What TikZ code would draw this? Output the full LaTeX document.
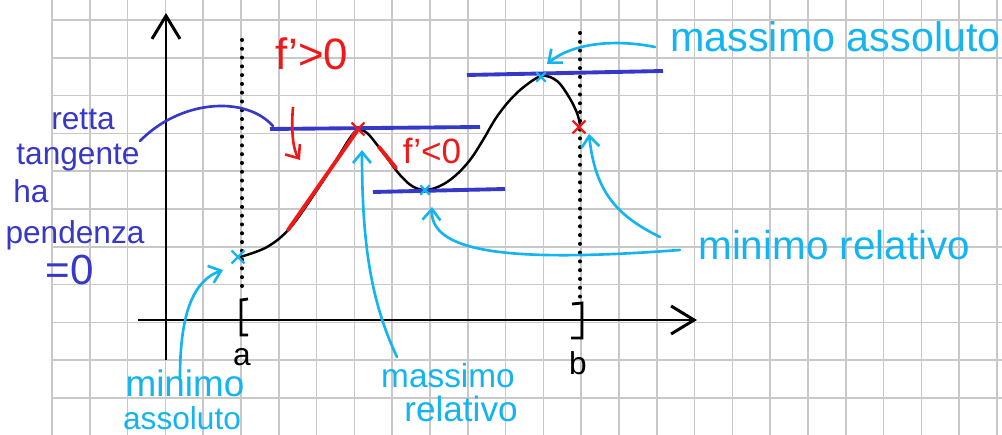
\documentclass[tikz,border=0pt]{standalone}
\usepackage{fontspec}
\setmainfont{Liberation Sans}
\usetikzlibrary{arrows.meta, shapes.misc}

\definecolor{penblue}{RGB}{55,55,200}
\definecolor{pencyan}{RGB}{20,180,240}
\definecolor{penred}{RGB}{240,25,25}
\definecolor{gridgray}{RGB}{200,200,200}

\begin{document}
\begin{tikzpicture}[
    x=0.02cm, y=-0.02cm,
    >={Straight Barb[length=2.2mm, width=3.6mm]},
    gridline/.style={draw=gridgray, line width=1pt},
    axis/.style={line width=1.7pt, -{Straight Barb[length=4.6mm, width=5.6mm]}},
    dots/.style={line width=2.3pt, line cap=round, dash pattern=on 0pt off 5pt},
    fcurve/.style={line width=1.4pt, line cap=round},
    redpen/.style={draw=penred, line width=2.2pt, line cap=round},
    tangent/.style={draw=penblue, line width=2.2pt},
    lead/.style={draw=pencyan, line width=1.5pt, line cap=round, ->},
    xmark/.style={cross out, draw, line width=1.3pt, minimum size=6pt, inner sep=0pt},
    cyantxt/.style={text=pencyan, inner sep=0pt},
    bluetxt/.style={text=penblue, inner sep=0pt, anchor=base,
                    font=\fontsize{18}{18}\selectfont},
    redtxt/.style={text=penred, inner sep=0pt, anchor=base}
  ]
  \useasboundingbox (0,0) rectangle (1002,435);
  \fill[white] (0,0) rectangle (1002,435);

  % squared paper
  \foreach \i in {0,...,25}
    \draw[gridline] ({52+37.8*\i},0) -- ({52+37.8*\i},435);
  \foreach \j in {0,...,10}
    \draw[gridline] (52,{20+37.8*\j}) -- (1002,{20+37.8*\j});

  % axes
  \coordinate (xstart) at (138,320);
  \coordinate (xend) at (697,320);
  \coordinate (ystart) at (166,360);
  \coordinate (yend) at (166,13);
  \draw[axis] (xstart) -- (xend);
  \draw[axis] (ystart) -- (yend);

  % interval [a,b]
  \draw[dots] (242,40) -- (242,293);
  \draw[dots] (580,33) -- (580,297);
  \draw[line width=1.6pt] (248,299) -- (241,300) -- (241,335) -- (248,335);
  \draw[line width=1.6pt] (572,304) -- (582,303) -- (582,338) -- (571,338);
  \node[inner sep=0pt, anchor=base, font=\fontsize{18}{18}\selectfont] (la) at (242,366) {a};
  \node[inner sep=0pt, anchor=base, font=\fontsize{18}{18}\selectfont] (lb) at (578,375) {b};

  % the function
  \draw[fcurve] plot[smooth, tension=0.6] coordinates {
    (240,257) (267,247) (290,228) (315,193) (335,162) (350,138) (358,130)
    (367,133) (378,146) (390,162) (400,175) (412,186) (425,190) (440,186)
    (455,176) (470,160) (483,140) (496,118) (510,100) (525,86) (542,76)
    (557,81) (569,97) (577,113) (580,125)};
  \draw[redpen] (288,230) -- (357,131);
  \draw[redpen] (379,147) -- (396,168);

  % horizontal tangents
  \draw[tangent] (467,75) -- (663,71);
  \draw[tangent] (270,129) -- (480,127);
  \draw[tangent] (373,192) -- (505,189);

  % special points
  \node[xmark, draw=pencyan] (pA) at (238,257) {};
  \node[xmark, draw=penred] (pMaxRel) at (358,129) {};
  \node[xmark, draw=pencyan, minimum size=4pt] (pMinRel) at (425,190) {};
  \node[xmark, draw=pencyan, minimum size=4pt] (pMaxAbs) at (541,77) {};
  \node[xmark, draw=penred] (pB) at (579,127) {};

  % derivative sign
  \node[redtxt, font=\fontsize{25}{25}\selectfont] (lfpos) at (312,70) {f'>0};
  \node[redtxt, font=\fontsize{20}{20}\selectfont] (lfneg) at (432,164) {f'<0};
  \coordinate (fstart) at (293,107);
  \coordinate (fend) at (300,160);
  \draw[draw=penred, line width=1.5pt, ->] (fstart) .. controls (291,130) and (293,150) .. (fend);

  % tangent slope note
  \node[bluetxt] (lretta) at (83,130) {retta};
  \node[bluetxt] (ltangente) at (78,165) {tangente};
  \node[bluetxt] (lha) at (31,203) {ha};
  \node[bluetxt] (lpendenza) at (75,244) {pendenza};
  \node[bluetxt, font=\fontsize{24}{24}\selectfont] (lzero) at (70,285) {=0};
  \draw[draw=penblue, line width=1.5pt, line cap=round]
    ([shift={(62,-24)}]ltangente.base) .. controls (180,100) and (245,95) .. (273,126);

  % names of the points
  \node[cyantxt, anchor=base west, font=\fontsize{23.5}{24}\selectfont] (lMaxAbs) at (670,52) {massimo assoluto};
  \node[cyantxt, anchor=base west, font=\fontsize{23}{24}\selectfont] (lMinRel) at (698,260) {minimo relativo};
  \node[cyantxt, anchor=base, font=\fontsize{19}{20}\selectfont] (lMassimo) at (448,388) {massimo};
  \node[cyantxt, anchor=base, font=\fontsize{20}{20}\selectfont] (lRelativo) at (461,422) {relativo};
  \node[cyantxt, anchor=base, font=\fontsize{21}{22}\selectfont] (lMinimo) at (185,397) {minimo};
  \node[cyantxt, anchor=base, font=\fontsize{18}{20}\selectfont] (lAssoluto) at (182,430) {assoluto};

  \coordinate (tMaxAbs) at (547,64);
  \coordinate (tMinRel) at (432,207);
  \coordinate (tMaxRel) at (362,150);
  \coordinate (tMinAbs) at (223,270);
  \coordinate (tB) at (589,134);
  \draw[lead] ([shift={(-15,-5)}]lMaxAbs.base west) .. controls (610,38) and (570,45) .. (tMaxAbs);
  \draw[lead] ([shift={(-18,-10)}]lMinRel.base west) .. controls (520,262) and (430,255) .. (tMinRel);
  \draw[lead] ([shift={(-38,-23)}]lMinRel.base west) .. controls (615,215) and (595,190) .. (tB);
  \draw[lead] ([shift={(-51,-31)}]lMassimo.base) .. controls (370,300) and (362,240) .. (tMaxRel);
  \draw[lead] ([shift={(-5,-20)}]lMinimo.base) .. controls (180,310) and (195,280) .. (tMinAbs);
\end{tikzpicture}
\end{document}
